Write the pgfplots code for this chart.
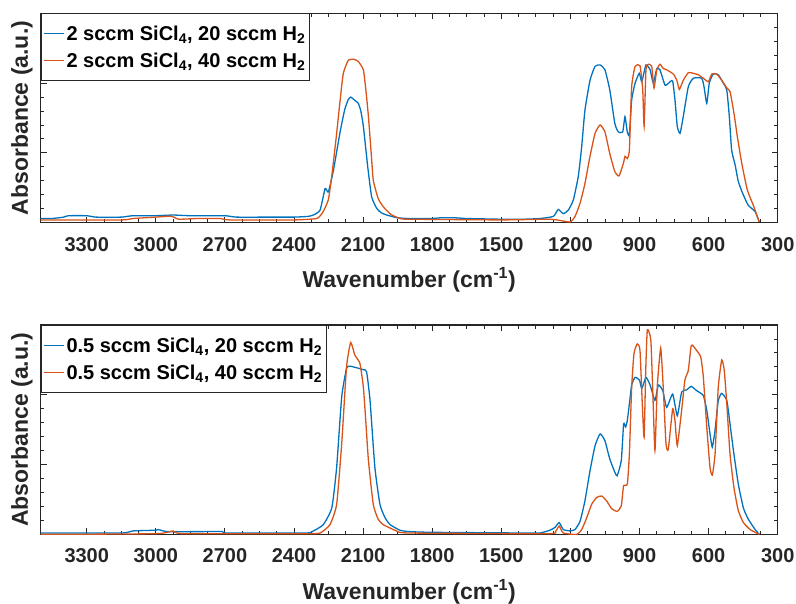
\documentclass[border=0pt]{standalone}
\usepackage{fontspec}
\setmainfont{Liberation Sans}
\usepackage{pgfplots}
\pgfplotsset{compat=1.18}
\definecolor{mblue}{rgb}{0,0.447,0.741}
\definecolor{morange}{rgb}{0.850,0.325,0.098}
\definecolor{axgray}{rgb}{0.15,0.15,0.15}
\pgfplotsset{
  myax/.style={
    width=737bp, height=209.4bp, scale only axis,
    x dir=reverse, xmin=300, xmax=3500, ymin=0, ymax=3,
    xtick={300,600,...,3300}, minor x tick num=3,
    ytick={0,1,2,3}, yticklabels={}, minor y tick num=4,
    tick align=inside, major tick length=6bp, minor tick length=3.5bp,
    axis line style={axgray, line width=1.1bp},
    every tick/.style={axgray, line width=0.9bp},
    /pgf/number format/assume math mode=true,
    /pgf/number format/1000 sep={},
    tick label style={font=\fontsize{20bp}{24bp}\selectfont\bfseries, text=axgray},
    xticklabel style={yshift=-11bp},
    label style={font=\fontsize{23bp}{27bp}\selectfont\bfseries, text=axgray},
    xlabel={Wavenumber (cm\textsuperscript{-1})},
    xlabel style={yshift=-9bp},
    ylabel={Absorbance (a.u.)},
    ylabel style={at={(axis description cs:-0.0254,0.5)}, anchor=center},
    legend cell align=left,
    legend style={at={(0,1)}, anchor=north west, draw=axgray, line width=1.1bp,
      font=\fontsize{20bp}{24bp}\selectfont\bfseries, text=black,
      inner xsep=2bp, inner ysep=10bp, row sep=7bp},
    legend image code/.code={\draw[##1, line width=1.3bp] (0bp,0bp) -- (20bp,0bp);},
    every axis plot/.append style={line width=1.3bp, smooth, tension=0.3},
  }
}
\begin{document}
\begin{tikzpicture}
\useasboundingbox (0bp,0bp) rectangle (796bp,-604bp);
\begin{axis}[myax, at={(40.7bp,-13.3bp)}, anchor=north west]
\addplot[mblue] coordinates {
(3500,0.06) (3450,0.06) (3400,0.08) (3380,0.10) (3300,0.10) (3260,0.08) (3150,0.08) (3100,0.10)
(3000,0.10) (2925,0.11) (2850,0.10) (2700,0.10) (2650,0.08) (2500,0.08) (2400,0.08) (2340,0.09)
(2316,0.11) (2287,0.18) (2265,0.49) (2251,0.44) (2229,0.75) (2200,1.30) (2180,1.62) (2165,1.76)
(2154,1.80) (2135,1.75) (2121,1.71) (2110,1.60) (2099,1.38) (2080,0.80) (2063,0.37) (2040,0.20)
(2020,0.14) (1998,0.11) (1950,0.07) (1900,0.06) (1800,0.06) (1765,0.07) (1700,0.07) (1650,0.06)
(1500,0.05) (1400,0.05) (1332,0.06) (1274,0.09) (1253,0.19) (1231,0.13) (1209,0.18) (1187,0.33)
(1166,0.66) (1151,1.09) (1137,1.61) (1115,2.04) (1093,2.24) (1071,2.26) (1050,2.19) (1029,1.90)
(1007,1.42) (992,1.30) (973,1.30) (963,1.52) (953,1.30) (944,1.26) (934,1.76) (919,2.00)
(901,2.14) (890,2.02) (872,2.26) (854,2.19) (840,2.00) (825,2.21) (811,2.19) (789,1.97)
(767,2.02) (756,2.03) (746,1.76) (736,1.38) (724,1.28) (710,1.52) (688,1.95) (666,2.07)
(630,2.07) (620,1.95) (608,1.71) (597,2.00) (580,2.13) (558,2.12) (536,2.00) (521,1.90)
(510,1.52) (500,1.04) (485,0.83) (471,0.59) (452,0.42) (428,0.25) (398,0.16) (380,0.01)
};
\addlegendentry{2 sccm SiCl\textsubscript{4}, 20 sccm H\textsubscript{2}}
\addplot[morange] coordinates {
(3500,0.04) (3150,0.04) (3100,0.06) (3000,0.08) (2960,0.09) (2930,0.09) (2900,0.05) (2820,0.06)
(2720,0.06) (2680,0.04) (2400,0.04) (2302,0.06) (2275,0.15) (2251,0.33) (2235,0.70) (2215,1.28)
(2200,1.75) (2186,2.14) (2164,2.33) (2140,2.34) (2121,2.31) (2099,2.19) (2088,1.90) (2077,1.52)
(2065,1.00) (2056,0.61) (2035,0.35) (2013,0.23) (1980,0.12) (1940,0.06) (1900,0.05) (1500,0.04)
(1300,0.05) (1259,0.04) (1202,0.01) (1180,0.09) (1158,0.28) (1137,0.56) (1115,0.95) (1093,1.28)
(1071,1.40) (1050,1.30) (1029,0.99) (1007,0.73) (989,0.67) (970,0.85) (963,0.95) (953,0.92)
(944,1.04) (934,1.95) (919,2.24) (898,2.25) (886,1.90) (880,1.38) (872,2.19) (862,2.27)
(847,2.24) (837,1.93) (825,2.19) (811,2.27) (797,2.21) (782,2.19) (753,2.13) (738,2.04)
(727,1.91) (710,2.04) (688,2.15) (666,2.14) (645,2.12) (623,2.07) (601,2.02) (586,2.13)
(565,2.13) (543,2.04) (521,1.93) (507,1.88) (490,1.57) (475,1.23) (456,0.85) (432,0.47)
(406,0.25) (380,0.01)
};
\addlegendentry{2 sccm SiCl\textsubscript{4}, 40 sccm H\textsubscript{2}}
\end{axis}
\begin{axis}[myax, at={(40.7bp,-325bp)}, anchor=north west]
\addplot[mblue] coordinates {
(3500,0.02) (3150,0.02) (3100,0.05) (3000,0.06) (2990,0.07) (2950,0.04) (2810,0.04) (2710,0.04)
(2690,0.02) (2350,0.02) (2316,0.05) (2273,0.14) (2236,0.38) (2215,0.96) (2193,1.97) (2172,2.38)
(2157,2.41) (2120,2.38) (2099,2.36) (2085,2.33) (2070,1.92) (2049,0.96) (2027,0.43) (2005,0.24)
(1983,0.14) (1940,0.06) (1900,0.04) (1800,0.03) (1400,0.02) (1332,0.02) (1289,0.06) (1267,0.10)
(1249,0.17) (1231,0.07) (1202,0.05) (1180,0.07) (1158,0.19) (1137,0.48) (1115,0.91) (1093,1.27)
(1071,1.44) (1050,1.34) (1029,1.08) (1007,0.89) (997,0.84) (979,1.06) (969,1.58) (960,1.54)
(953,1.63) (944,1.87) (934,2.14) (919,2.25) (900,2.21) (890,2.09) (872,2.25) (854,2.14)
(833,1.92) (818,2.14) (799,2.06) (782,1.82) (756,2.01) (736,1.70) (717,2.04) (696,2.07)
(675,2.12) (652,2.06) (623,1.99) (608,1.78) (594,1.44) (584,1.25) (572,1.49) (558,1.92)
(543,2.02) (521,1.92) (507,1.58) (490,1.15) (471,0.72) (449,0.38) (428,0.22) (398,0.07)
(380,0.00)
};
\addlegendentry{0.5 sccm SiCl\textsubscript{4}, 20 sccm H\textsubscript{2}}
\addplot[morange] coordinates {
(3500,0.00) (3000,0.01) (2925,0.05) (2880,0.01) (2350,0.01) (2287,0.02) (2244,0.14) (2215,0.43)
(2193,1.30) (2172,2.40) (2154,2.75) (2136,2.57) (2114,2.45) (2099,2.11) (2088,1.60) (2077,1.06)
(2056,0.43) (2035,0.22) (2013,0.14) (1955,0.05) (1900,0.02) (1300,0.01) (1265,0.04) (1249,0.12)
(1231,0.02) (1173,0.00) (1151,0.07) (1129,0.24) (1108,0.43) (1086,0.53) (1064,0.55) (1043,0.48)
(1021,0.37) (997,0.33) (979,0.41) (969,0.70) (953,0.72) (944,1.15) (934,2.11) (924,2.59)
(910,2.73) (898,2.64) (888,1.87) (880,1.39) (873,2.35) (866,2.93) (851,2.79) (843,2.11)
(833,1.20) (823,2.11) (808,2.67) (797,2.11) (785,1.30) (775,1.22) (756,1.80) (746,1.63)
(736,1.27) (717,1.78) (703,2.21) (688,2.35) (675,2.71) (653,2.64) (634,2.54) (623,2.26)
(608,1.54) (594,0.96) (584,0.85) (572,1.15) (558,2.11) (543,2.50) (532,2.35) (521,1.87)
(507,1.15) (490,0.67) (471,0.34) (449,0.17) (420,0.07) (380,0.00)
};
\addlegendentry{0.5 sccm SiCl\textsubscript{4}, 40 sccm H\textsubscript{2}}
\end{axis}
\end{tikzpicture}
\end{document}
